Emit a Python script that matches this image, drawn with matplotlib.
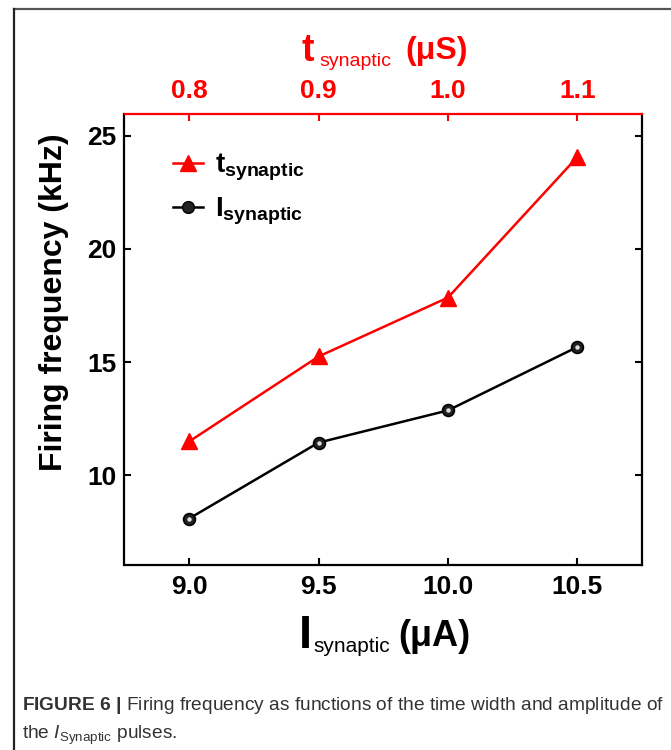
import numpy as np
import matplotlib
matplotlib.use("Agg")
import matplotlib.pyplot as plt
from matplotlib.lines import Line2D

# data
i_syn = [9.0, 9.5, 10.0, 10.5]          # bottom axis, uA
t_syn = [0.8, 0.9, 1.0, 1.1]            # top axis, us
freq_t = [11.5, 15.25, 17.85, 24.05]    # kHz, red triangles
freq_i = [8.1, 11.45, 12.87, 15.67]     # kHz, black spheres
y_ticks = [10, 15, 20, 25]

plt.rcParams['font.family'] = ['Liberation Sans', 'DejaVu Sans']
plt.rcParams['mathtext.fontset'] = 'custom'
plt.rcParams['mathtext.rm'] = 'Liberation Sans'
plt.rcParams['mathtext.bf'] = 'Liberation Sans:bold'
plt.rcParams['mathtext.it'] = 'Liberation Sans:italic'

RED = '#ff0000'
W, H = 671, 750

fig = plt.figure(figsize=(W / 100, H / 100), dpi=100)

def fx(px):
    return px / W

def fy(py):
    return 1 - py / H

# page frame (top and left edges only)
fig.add_artist(Line2D([fx(14), 1], [fy(9), fy(9)], color='#555555', lw=1.6))
fig.add_artist(Line2D([fx(14), fx(14)], [fy(9), 0], color='#222222', lw=1.6))

ax = fig.add_axes([fx(124.5), fy(565), fx(642) - fx(124.5), fy(114) - fy(565)])
ax.set_xlim(8.75, 10.75)
ax.set_ylim(6.05, 25.95)
ax.set_xticks(i_syn)
ax.set_xticklabels(['%.1f' % v for v in i_syn])
ax.set_yticks(y_ticks)
ax.tick_params(axis='both', direction='in', length=5, width=1.5, labelsize=19, pad=6)
ax.tick_params(axis='x', pad=7)
ax.tick_params(axis='y', right=True, pad=6)
for lab in ax.get_xticklabels() + ax.get_yticklabels():
    lab.set_fontweight('bold')
for s in ['left', 'right', 'bottom']:
    ax.spines[s].set_linewidth(1.6)
ax.spines['top'].set_visible(False)

ax2 = ax.twiny()
ax2.set_xlim(0.75, 1.15)
ax2.set_xticks(t_syn)
ax2.set_xticklabels(['%.1f' % v for v in t_syn])
ax2.tick_params(axis='x', direction='in', length=5, width=1.5, labelsize=19,
                pad=8, colors=RED)
for lab in ax2.get_xticklabels():
    lab.set_fontweight('bold')
ax2.spines['top'].set_color(RED)
ax2.spines['top'].set_linewidth(1.6)
for s in ['left', 'right', 'bottom']:
    ax2.spines[s].set_visible(False)

# series
ax.plot(i_syn, freq_i, color='black', lw=1.8, marker='o', ms=8.5,
        mfc='#222222', mec='black', mew=1.2, zorder=3)
ax.plot(i_syn, freq_i, ls='none', marker='o', ms=3.2, mfc='#e0e0e0', mew=0, zorder=4)
ax2.plot(t_syn, freq_t, color=RED, lw=1.8, marker='^', ms=11, mec=RED, zorder=3)

# legend
h_t = Line2D([], [], color=RED, lw=1.8, marker='^', ms=11)
h_i = Line2D([], [], color='black', lw=1.8, marker='o', ms=8.5, mfc='#222222')
ax2.legend([h_t, h_i],
           [r'$\mathbf{t}_{\mathbf{synaptic}}$', r'$\mathbf{I}_{\mathbf{synaptic}}$'],
           loc='upper left', bbox_to_anchor=(0.072, 0.94), frameon=False,
           fontsize=20, handlelength=1.1, handletextpad=0.4, labelspacing=0.45,
           borderaxespad=0)

# y label
fig.text(fx(54), fy(302), 'Firing frequency (kHz)', rotation=90, ha='center',
         va='center', fontsize=23, fontweight='bold')

# bottom label  I_synaptic (uA)
fig.text(fx(299), fy(648), 'I', fontsize=34, fontweight='bold', va='baseline')
fig.text(fx(313), fy(652), 'synaptic', fontsize=15, va='baseline')
fig.text(fx(398), fy(646), '(\u03bcA)', fontsize=26, fontweight='bold', va='baseline')

# top label  t_synaptic (us)
fig.text(fx(302), fy(61), 't', fontsize=27, fontweight='bold', va='baseline', color=RED)
fig.text(fx(319), fy(66), 'synaptic', fontsize=14, va='baseline', color=RED)
fig.text(fx(405), fy(59), '(\u03bcS)', fontsize=23, fontweight='bold', va='baseline', color=RED)

# caption
fig.text(fx(22), fy(710),
         r'$\mathbf{FIGURE\ 6\ |}$ Firing frequency as functions of the time width and amplitude of',
         fontsize=13.8, color='#333333', va='baseline')
fig.text(fx(22), fy(739), r'the $\mathit{I}_{\mathrm{Synaptic}}$ pulses.',
         fontsize=13.8, color='#333333', va='baseline')

fig.savefig('out.png', dpi=100)
